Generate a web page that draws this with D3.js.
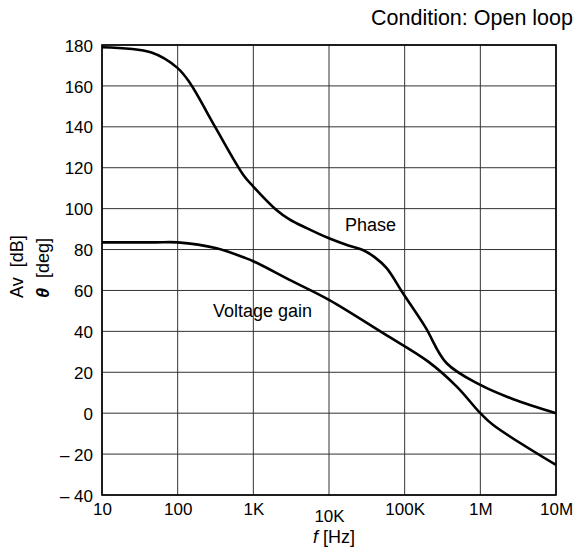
<!DOCTYPE html>
<html>
<head>
<meta charset="utf-8">
<script src="https://cdn.jsdelivr.net/npm/d3@7"></script>
<style>
html,body{margin:0;padding:0;background:#fff;}
svg{display:block;font-family:"Liberation Sans",Arial,sans-serif;}
</style>
</head>
<body>
<svg id="chart" width="576" height="552"></svg>
<script>
// Tick values / labels
const xTicks = [10, 100, 1e3, 1e4, 1e5, 1e6, 1e7];
const xTickLabels = ["10", "100", "1K", "10K", "100K", "1M", "10M"];
const yTicks = [-40, -20, 0, 20, 40, 60, 80, 100, 120, 140, 160, 180];

// Phase curve (deg)
const phaseFreq = [10, 45, 100, 146, 311, 738, 1000, 2000, 3000, 5000, 10000, 18000, 28000, 40000, 57800, 95000, 186000, 359000, 1000000, 2730000, 10000000];
const phaseVal  = [178.9, 176.3, 168.7, 161.3, 140.1, 116.5, 110.8, 99.5, 94.8, 90.6, 85.5, 82.0, 79.8, 76.3, 70.9, 58.6, 42.3, 24.4, 13.8, 6.8, 0];

// Voltage gain curve (dB)
const gainFreq = [10, 50, 100, 328, 738, 1000, 3160, 10000, 52000, 205000, 488000, 1000000, 1480000, 10000000];
const gainVal  = [83.5, 83.5, 83.5, 80.6, 76.2, 74.3, 64.8, 55.4, 39.1, 25.2, 13, 0, -5.8, -25.3];

const svg = d3.select("#chart");
const L = 102, R = 556, T = 45, B = 495;

const x = d3.scaleLog().domain([10, 1e7]).range([L, R]);
const y = d3.scaleLinear().domain([-40, 180]).range([B, T]);

// grid
const g = svg.append("g");
g.selectAll(".vg").data(xTicks).enter().append("line")
  .attr("x1", d => x(d)).attr("x2", d => x(d))
  .attr("y1", T).attr("y2", B)
  .attr("stroke", "#333").attr("stroke-width", 1);
g.selectAll(".hg").data(yTicks).enter().append("line")
  .attr("x1", L).attr("x2", R)
  .attr("y1", d => y(d)).attr("y2", d => y(d))
  .attr("stroke", "#333").attr("stroke-width", 1);

// border
svg.append("rect").attr("x", L).attr("y", T).attr("width", R - L).attr("height", B - T)
  .attr("fill", "none").attr("stroke", "#000").attr("stroke-width", 1.6);

// axes labels via d3 axes (no tick lines)
const yAxis = d3.axisLeft(y).tickValues(yTicks).tickSize(0).tickPadding(9)
  .tickFormat(d => d < 0 ? "\u2013 " + Math.abs(d) : String(d));
const ya = svg.append("g").attr("transform", `translate(${L},0)`).call(yAxis);
ya.select(".domain").remove();
ya.selectAll("text").attr("font-size", 17).attr("fill", "#000")
  .attr("font-family", "Liberation Sans, Arial, sans-serif").attr("dy", "0.36em");

const xAxis = d3.axisBottom(x).tickValues(xTicks).tickSize(0).tickPadding(8)
  .tickFormat((d, i) => xTickLabels[i]);
const xa = svg.append("g").attr("transform", `translate(0,${B})`).call(xAxis);
xa.select(".domain").remove();
xa.selectAll("text").attr("font-size", 17).attr("fill", "#000")
  .attr("font-family", "Liberation Sans, Arial, sans-serif")
  .attr("dy", (d, i) => xTickLabels[i] === "10K" ? "1.12em" : "0.71em");

// curves
const line = d3.line().x(d => x(d[0])).y(d => y(d[1])).curve(d3.curveCatmullRom.alpha(0.5));
svg.append("path").datum(phaseFreq.map((f, i) => [f, phaseVal[i]]))
  .attr("d", line).attr("fill", "none").attr("stroke", "#000").attr("stroke-width", 2.6)
  .attr("stroke-linejoin", "round");
svg.append("path").datum(gainFreq.map((f, i) => [f, gainVal[i]]))
  .attr("d", line).attr("fill", "none").attr("stroke", "#000").attr("stroke-width", 2.6)
  .attr("stroke-linejoin", "round");

// annotations
svg.append("text").attr("x", 345).attr("y", 231).attr("font-size", 18).text("Phase");
svg.append("text").attr("x", 213).attr("y", 317).attr("font-size", 18).text("Voltage gain");
svg.append("text").attr("x", 573).attr("y", 25).attr("font-size", 21.5)
  .attr("text-anchor", "end").text("Condition: Open loop");

// x title
const xt = svg.append("text").attr("x", 334).attr("y", 543).attr("font-size", 18)
  .attr("text-anchor", "middle");
xt.append("tspan").attr("font-style", "italic").text("f");
xt.append("tspan").text("\u00a0[Hz]");

// y title (rotated)
svg.append("text").attr("transform", "translate(23,298) rotate(-90)")
  .attr("font-size", 18).attr("text-anchor", "start").text("Av\u00a0\u00a0[dB]");
const yt2 = svg.append("text").attr("transform", "translate(49,298) rotate(-90)")
  .attr("font-size", 18).attr("text-anchor", "start");
yt2.append("tspan").attr("font-style", "italic").attr("font-weight", "bold").text("\u03b8");
yt2.append("tspan").text("\u00a0\u00a0[deg]");
</script>
</body>
</html>
